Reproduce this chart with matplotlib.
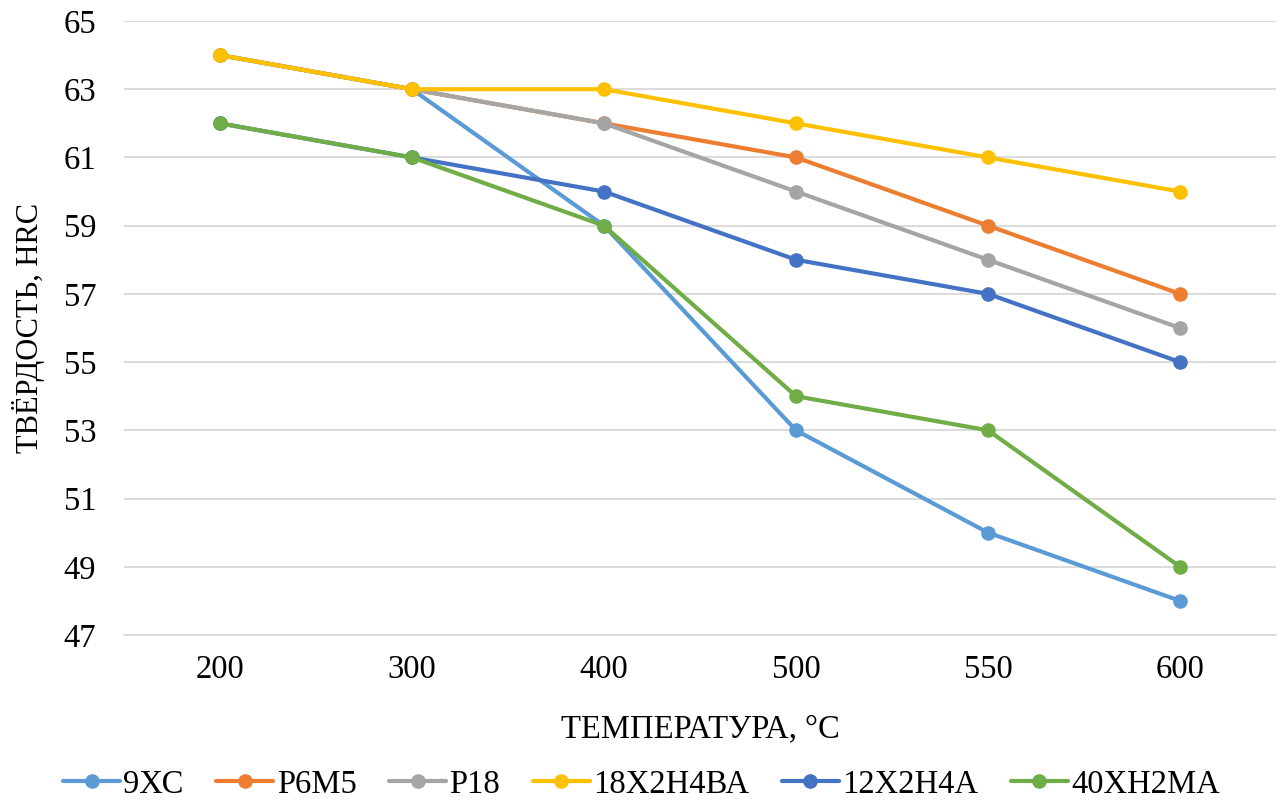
import numpy as np
import matplotlib.pyplot as plt

plt.rcParams['font.family'] = ['Liberation Serif', 'DejaVu Serif']

# data
temps = ['200', '300', '400', '500', '550', '600']
names = ['9ХС', 'Р6М5', 'Р18', '18Х2Н4ВА', '12Х2Н4А', '40ХН2МА']
h_9xc = [64, 63, 59, 53, 50, 48]
h_r6m5 = [64, 63, 62, 61, 59, 57]
h_r18 = [64, 63, 62, 60, 58, 56]
h_18x2n4va = [64, 63, 63, 62, 61, 60]
h_12x2n4a = [62, 61, 60, 58, 57, 55]
h_40xn2ma = [62, 61, 59, 54, 53, 49]
series = [h_9xc, h_r6m5, h_r18, h_18x2n4va, h_12x2n4a, h_40xn2ma]
colors = ['#5B9BD5', '#ED7D31', '#A5A5A5', '#FFC000', '#4472C4', '#70AD47']

fig = plt.figure(figsize=(12.83, 8.05), dpi=100)
ax = fig.add_axes([0.0966, 0.2112, 0.898, 0.7627])

x = np.arange(len(temps))
for vals, name, c in zip(series, names, colors):
    ax.plot(x, vals, color=c, lw=3, marker='o', ms=9.5, label=name,
            solid_capstyle='round')

ax.set_xlim(-0.5, len(temps) - 0.5)
ax.set_ylim(47, 65)
ax.set_yticks(np.arange(47, 66, 2))
ax.set_xticks(x)
ax.set_xticklabels(temps)
ax.grid(axis='y', color='#D9D9D9', lw=1.3)
ax.set_axisbelow(True)
for s in ['top', 'right', 'left']:
    ax.spines[s].set_visible(False)
ax.spines['bottom'].set_color('#D9D9D9')
ax.spines['bottom'].set_linewidth(1.3)
ax.tick_params(length=0, labelsize=23.5, colors='black')
ax.tick_params(axis='x', pad=14)
ax.tick_params(axis='y', pad=20)

ax.set_xlabel('ТЕМПЕРАТУРА, °C', fontsize=23.5, labelpad=21)
ax.set_ylabel('ТВЁРДОСТЬ, HRC', fontsize=22, labelpad=13)

fig.legend(loc='lower center', bbox_to_anchor=(0.5, -0.03), ncol=6,
           frameon=False, fontsize=23.5, handlelength=1.75, columnspacing=1.0,
           handletextpad=0.1)

fig.savefig('out.png', dpi=100)
